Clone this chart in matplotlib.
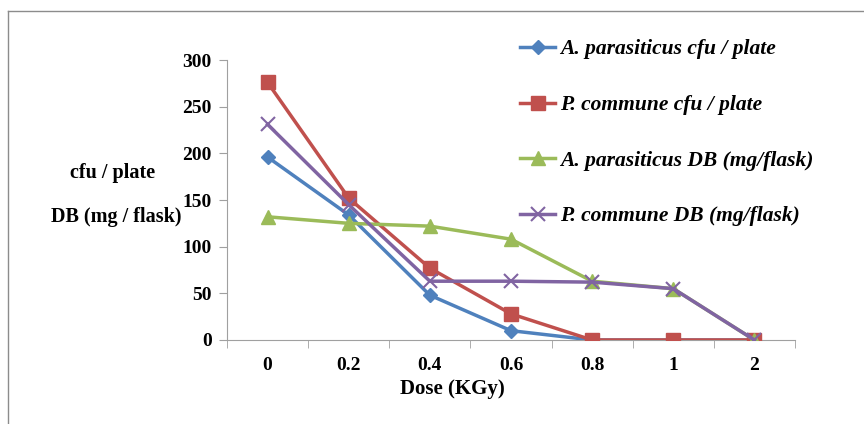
import matplotlib
matplotlib.use('Agg')
import matplotlib.pyplot as plt
from matplotlib.lines import Line2D

doses = ['0', '0.2', '0.4', '0.6', '0.8', '1', '2']
a_cfu = [196, 134, 48, 10, 0, 0, 0]
p_cfu = [276, 152, 77, 28, 0, 0, 0]
a_db = [132, 125, 122, 108, 63, 55, 0]
p_db = [231, 145, 63, 63, 62, 55, 0]

labels = ['A. parasiticus cfu / plate', 'P. commune cfu / plate',
          'A. parasiticus DB (mg/flask)', 'P. commune DB (mg/flask)']

plt.rcParams['font.family'] = ['Liberation Serif', 'DejaVu Serif']

fig = plt.figure(figsize=(8.64, 4.24), dpi=100)
ax = fig.add_axes([227 / 864, 1 - 340 / 424, 568 / 864, 280 / 424])

x = list(range(len(doses)))
ax.plot(x, a_cfu, color='#4F81BD', marker='D', ms=7.5, lw=2.5, label=labels[0], zorder=3)
ax.plot(x, p_cfu, color='#C0504D', marker='s', ms=9.5, lw=2.5, label=labels[1], zorder=3)
ax.plot(x, a_db, color='#9BBB59', marker='^', ms=10, lw=2.5, label=labels[2], zorder=3)
ax.plot(x, p_db, color='#8064A2', marker='x', ms=10, mew=1.5, lw=2.5, label=labels[3], zorder=4)

ax.set_xlim(-0.5, len(doses) - 0.5)
ax.set_ylim(0, 300)
ax.set_yticks(range(0, 301, 50))
ax.set_xticks(x)
ax.set_xticklabels(doses)
ax.set_xticks([i - 0.5 for i in range(len(doses) + 1)], minor=True)
ax.tick_params(axis='x', which='major', length=0, pad=12)
ax.tick_params(axis='x', which='minor', length=6, color='#A0A0A0')
ax.tick_params(axis='y', length=6, color='#A0A0A0', pad=5)
for lab in ax.get_xticklabels() + ax.get_yticklabels():
    lab.set_fontsize(14)
    lab.set_fontweight('bold')

for side in ['top', 'right']:
    ax.spines[side].set_visible(False)
for side in ['left', 'bottom']:
    ax.spines[side].set_color('#A0A0A0')
ax.patch.set_alpha(0)

fig.text(113 / 864, 1 - 173 / 424, 'cfu / plate', ha='center', va='center',
         fontsize=14.5, fontweight='bold')
fig.text(116 / 864, 1 - 217 / 424, 'DB (mg / flask)', ha='center', va='center',
         fontsize=14.5, fontweight='bold')
fig.text(452 / 864, 1 - 389 / 424, 'Dose (KGy)', ha='center', va='center',
         fontsize=15, fontweight='bold')

leg = fig.legend(loc='upper left', bbox_to_anchor=(501 / 864, 1 - 20 / 424),
                 frameon=False, prop={'size': 15.5, 'weight': 'bold', 'style': 'italic'},
                 labelspacing=1.65, handlelength=1.6, handletextpad=0.25)

# outer chart border (left and top only visible)
fig.add_artist(Line2D([8 / 864, 8 / 864], [0, 1 - 11 / 424], transform=fig.transFigure,
                      color='#8C8C8C', lw=1))
fig.add_artist(Line2D([8 / 864, 1], [1 - 11 / 424, 1 - 11 / 424], transform=fig.transFigure,
                      color='#8C8C8C', lw=1))

fig.savefig('out.png', dpi=100)
